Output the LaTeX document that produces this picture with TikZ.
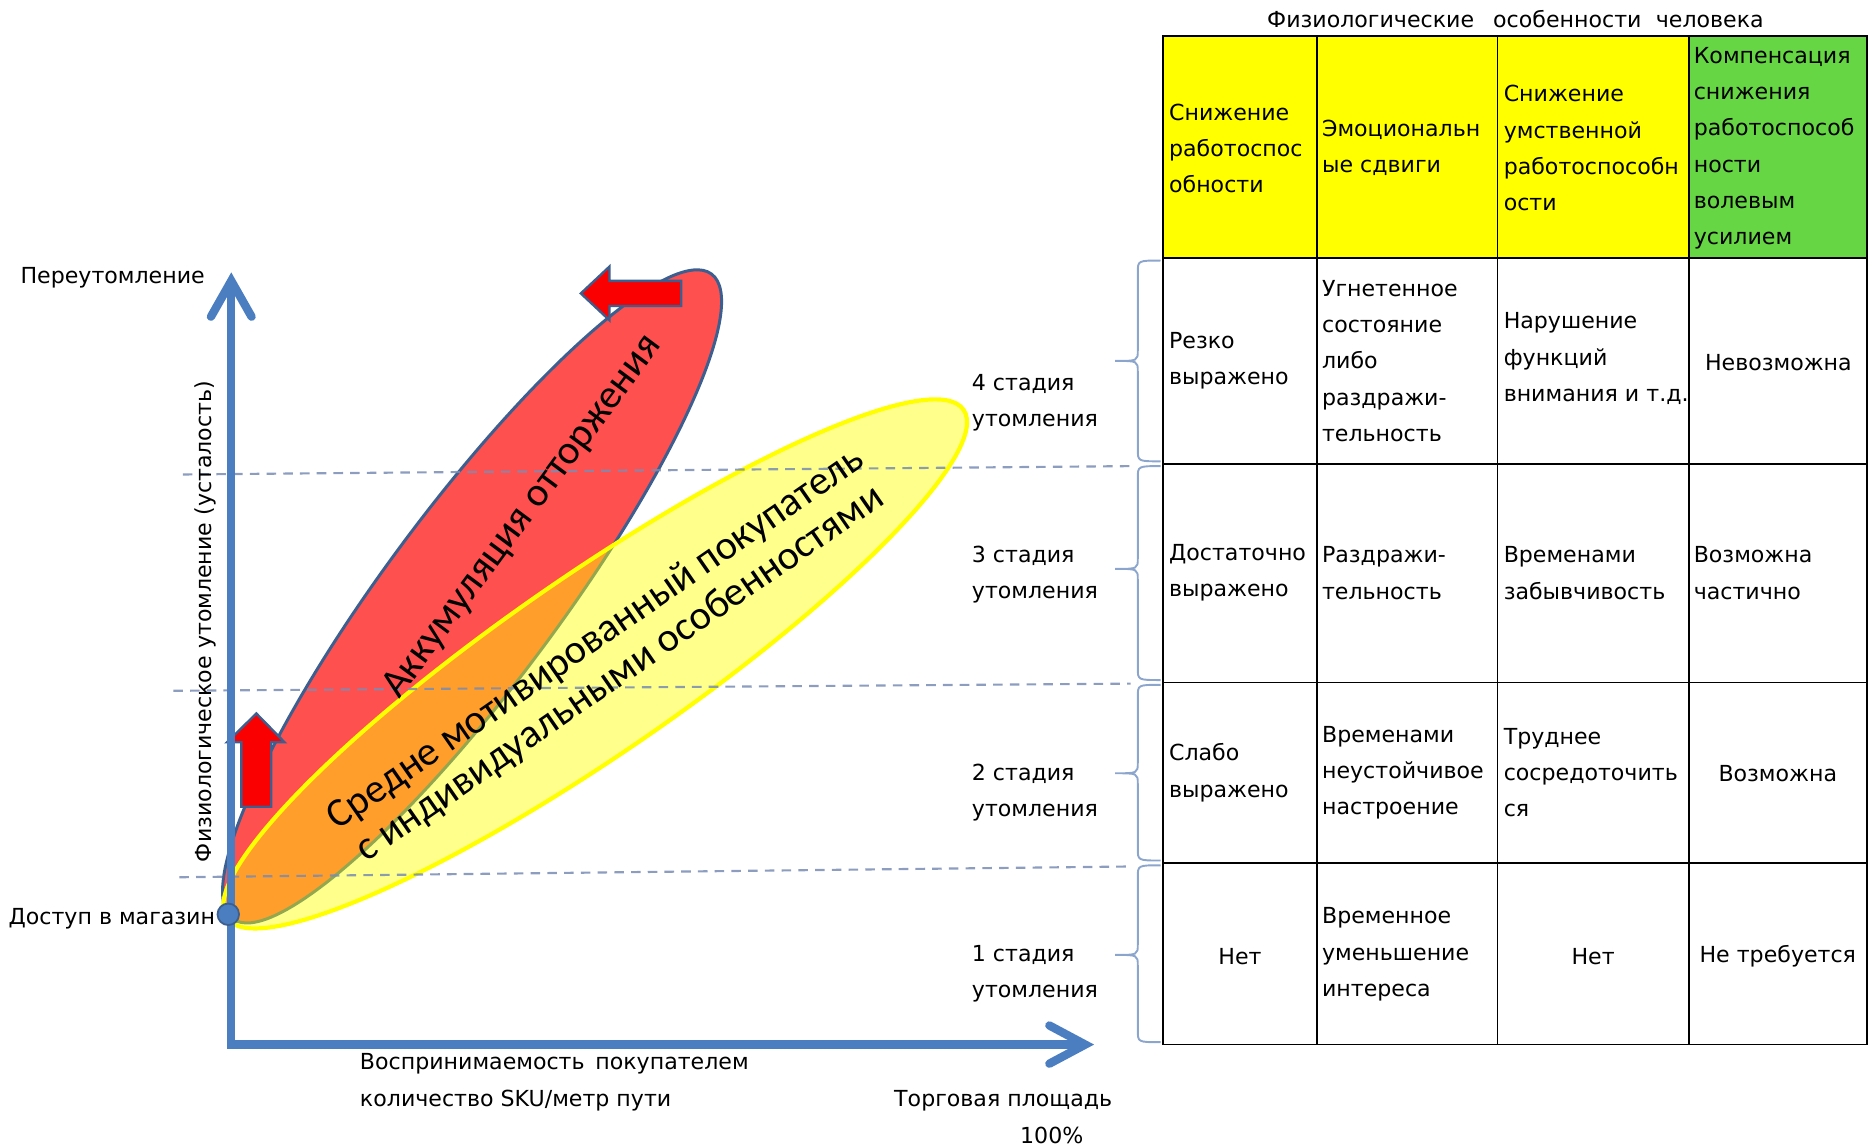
\documentclass[tikz,border=0pt]{standalone}
\usepackage{fontspec}
\setmainfont{DejaVu Sans}
\newfontfamily\calib{Carlito}
\definecolor{axisblue}{RGB}{74,126,193}
\definecolor{redfill}{RGB}{255,80,80}
\definecolor{arrowred}{RGB}{250,0,0}
\definecolor{edgeblue}{RGB}{60,95,143}
\definecolor{dashcol}{RGB}{120,140,180}
\definecolor{bracecol}{RGB}{140,165,205}
\definecolor{hdrgreen}{RGB}{102,214,68}
\definecolor{hdryellow}{RGB}{255,255,0}
\tikzset{
  axisline/.style={draw=axisblue, line width=7pt},
  redarrow/.style={fill=arrowred, draw=edgeblue, line width=2pt, line join=miter},
  dashline/.style={draw=dashcol, line width=1.8pt, dash pattern=on 8pt off 6pt, opacity=0.85},
  bracepath/.style={draw=bracecol, line width=1.6pt},
  tline/.style={draw=black, line width=1.4pt},
  lbl/.style={inner sep=0pt, anchor=west, align=left},
  cell/.style={inner sep=0pt, anchor=west, align=left},
  ccell/.style={inner sep=0pt, anchor=center, align=center},
  bigtxt/.style={inner sep=0pt, font=\calib\fontsize{34}{36}\selectfont}
}
\begin{document}
\begin{tikzpicture}[x=1pt, y=-1pt, font=\fontsize{18.5}{30.3}\selectfont]
\useasboundingbox (0,0) rectangle (1568,960);

% ---- ellipses ----
\coordinate (RC) at (395,499);
\coordinate (YC) at (498,555.5);
\filldraw[fill=redfill, draw=edgeblue, line width=2.5pt, rotate around={53.4:(RC)}] (RC) ellipse (336 and 73);
\fill[hdryellow, fill opacity=0.45, rotate around={34.6:(YC)}] (YC) ellipse (374.5 and 74.4);
\draw[hdryellow, line width=3.5pt, rotate around={34.6:(YC)}] (YC) ellipse (374.5 and 74.4);

% ---- dashed stage lines ----
\coordinate (D1) at (153,397);
\coordinate (D2) at (145,578);
\coordinate (D3) at (150,734);
\coordinate (J1) at (946,390);
\coordinate (J2) at (946,572);
\coordinate (J3) at (946,725);
\draw[dashline] (D1) -- (J1);
\draw[dashline] (D2) -- (J2);
\draw[dashline] (D3) -- (J3);

% ---- red arrows ----
\draw[redarrow] (214.5,597) -- (238,621) -- (227,621) -- (227,675) -- (202,675) -- (202,621) -- (190,621) -- cycle;
\draw[redarrow] (486,245.5) -- (510,223) -- (510,235) -- (570,235) -- (570,256) -- (510,256) -- (510,268) -- cycle;

% ---- axes ----
\coordinate (Ob) at (193.5,877.5);
\coordinate (O) at (190,874);
\coordinate (Yend) at (193.5,240);
\coordinate (Ytip) at (193.5,235);
\coordinate (Xend) at (903,874);
\coordinate (Xtip) at (908,874);
\draw[axisline] (Ob) -- (Yend);
\draw[axisline] (O) -- (Xend);
\draw[axisline, line cap=round, line join=miter] ([shift={(-17,30)}]Ytip) -- (Ytip) -- ([shift={(17,30)}]Ytip);
\draw[axisline, line cap=round, line join=miter] ([shift={(-30,-16)}]Xtip) -- (Xtip) -- ([shift={(-30,16)}]Xtip);

\node[circle, fill=axisblue, draw=edgeblue, line width=1.5pt, minimum size=18pt, inner sep=0pt] (door) at (191,765) {};

% ---- texts in ellipses ----
\node[bigtxt, rotate=53.4] (acc) at (437.5,432.5) {Аккумуляция отторжения};
\node[bigtxt, rotate=34.7, align=center] (mot) at (509,549.5) {Средне мотивированный покупатель\\с индивидуальными особенностями};

% ---- axis labels ----
\node[lbl] (over) at (17,232) {Переутомление};
\node[lbl] (entry) at (7,769) {Доступ в магазин};
\node[inner sep=0pt, rotate=90] (ylab) at (172,520) {Физиологическое утомление (усталость)};
\node[lbl] (xlab) at (301,905.5) {Воспринимаемость\hspace{9pt}покупателем\\количество SKU/метр пути};
\node[lbl] (area) at (748,921) {Торговая площадь};
\node[inner sep=0pt] (pct) at (880,950) {100\%};

% ---- stage labels ----
\node[lbl] (s4) at (813,337) {4 стадия\\утомления};
\node[lbl] (s3) at (813,480.5) {3 стадия\\утомления};
\node[lbl] (s2) at (813,663) {2 стадия\\утомления};
\node[lbl] (s1) at (813,815) {1 стадия\\утомления};

% ---- braces ----
\foreach \t/\b/\m in {218/386/302, 390/569/476, 573/720/647, 724/872/799}{
  \draw[bracepath] (971,\t) .. controls (952,\t) .. (952,\t+10) -- (952,\m-9)
     .. controls (952,\m) .. (933,\m) .. controls (952,\m) .. (952,\m+9)
     -- (952,\b-10) .. controls (952,\b) .. (971,\b);
}

% ---- table ----
\fill[hdryellow] (973,30) rectangle (1413,216);
\fill[hdrgreen] (1413,30) rectangle (1562,216);
\foreach \xx in {1102,1253,1413}{ \draw[tline] (\xx,30) -- (\xx,874); }
\foreach \yy in {216,388,571,722}{ \draw[tline] (973,\yy) -- (1562,\yy); }
\draw[tline] (973,30) rectangle (1562,874);

\node[inner sep=0pt] (title) at (1268,16) {Физиологические\hspace{16pt}особенности\hspace{12pt}человека};

\node[cell] (h1) at (978,124) {Снижение\\работоспос\\обности};
\node[cell] (h2) at (1106,124) {Эмоциональн\\ые сдвиги};
\node[cell] (h3) at (1258,124) {Снижение\\умственной\\работоспособн\\ости};
\node[cell] (h4) at (1417,124) {Компенсация\\снижения\\работоспособ\\ности\\волевым\\усилием};

\node[cell] (r11) at (978,302) {Резко\\выражено};
\node[cell] (r12) at (1106,302) {Угнетенное\\состояние\\либо\\раздражи-\\тельность};
\node[cell] (r13) at (1258,300) {Нарушение\\функций\\внимания и т.д.};
\node[ccell] (r14) at (1488,303) {Невозможна};

\node[cell] (r21) at (978,479.5) {Достаточно\\выражено};
\node[cell] (r22) at (1106,479.5) {Раздражи-\\тельность};
\node[cell] (r23) at (1258,479.5) {Временами\\забывчивость};
\node[cell] (r24) at (1417,479.5) {Возможна\\частично};

\node[cell] (r31) at (978,646.5) {Слабо\\выражено};
\node[cell] (r32) at (1106,646.5) {Временами\\неустойчивое\\настроение};
\node[cell] (r33) at (1258,646.5) {Труднее\\сосредоточить\\ся};
\node[ccell] (r34) at (1487.5,647) {Возможна};

\node[ccell] (r41) at (1037.5,800) {Нет};
\node[cell] (r42) at (1106,798.5) {Временное\\уменьшение\\интереса};
\node[ccell] (r43) at (1333,800) {Нет};
\node[ccell] (r44) at (1487.5,800) {Не требуется};
\end{tikzpicture}
\end{document}
